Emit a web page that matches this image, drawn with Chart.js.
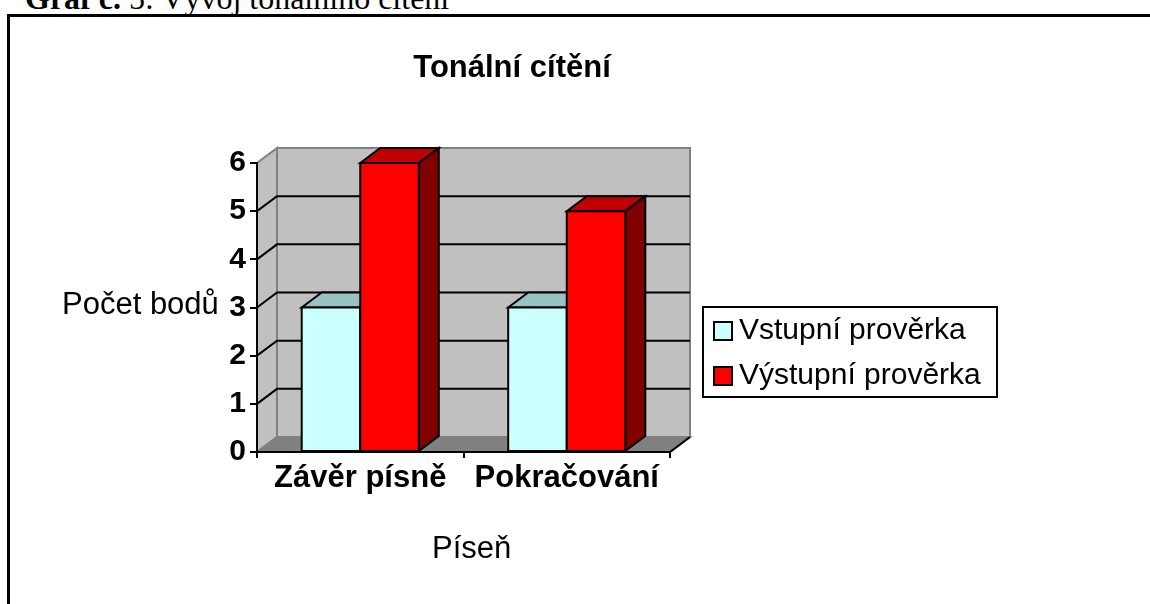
<!DOCTYPE html>
<html lang="cs">
<head>
  <meta charset="UTF-8">
  <title>Tonální cítění</title>
  <script src="https://cdn.jsdelivr.net/npm/chart.js"></script>
  <style>
    body {
      margin: 0;
      background: #fff;
      width: 1150px;
      height: 604px;
      overflow: hidden;
      position: relative;
    }
    .caption {
      position: absolute;
      left: 25px;
      top: -18px;
      font-family: 'Liberation Serif', 'Times New Roman', serif;
      font-size: 32px;
      line-height: 32px;
      white-space: nowrap;
    }
    .frame {
      position: absolute;
      left: 7px;
      top: 14px;
      width: 1200px;
      height: 700px;
      border-left: 3px solid #000;
      border-top: 3px solid #000;
    }
    #chart {
      position: absolute;
      left: 0;
      top: 0;
    }
  </style>
</head>
<body>
  <div class="caption"><b>Graf č.</b> 5: Vývoj tonálního cítění</div>
  <div class="frame"></div>
  <canvas id="chart" width="1150" height="604"></canvas>

  <script>
    // data
    const categories = ['Závěr písně', 'Pokračování'];
    const seriesNames = ['Vstupní prověrka', 'Výstupní prověrka'];
    const vstupni = [3, 3];
    const vystupni = [6, 5];
    const yMin = 0, yMax = 6, yStep = 1;

    const FONT = "'Liberation Sans', Arial, sans-serif";

    // colours: front, top, side
    const shades = [
      { front: '#CCFFFF', top: '#99C2C2', side: '#668080' },
      { front: '#FF0000', top: '#C00000', side: '#800000' }
    ];

    // depth of the 3D effect
    const DX = 20, DY = -15;

    function poly(ctx, pts, fill, stroke, lw) {
      ctx.beginPath();
      ctx.moveTo(pts[0][0], pts[0][1]);
      for (let i = 1; i < pts.length; i++) ctx.lineTo(pts[i][0], pts[i][1]);
      ctx.closePath();
      if (fill) { ctx.fillStyle = fill; ctx.fill(); }
      if (stroke) { ctx.strokeStyle = stroke; ctx.lineWidth = lw || 2; ctx.stroke(); }
    }

    // walls, floor and back gridlines, drawn before the axes
    const walls = {
      id: 'walls',
      beforeDraw(chart) {
        const ctx = chart.ctx;
        const { left, right, top, bottom } = chart.chartArea;
        const y = chart.scales.y;
        ctx.save();
        ctx.lineJoin = 'miter';
        // back wall
        poly(ctx, [[left + DX, top + DY], [right + DX, top + DY], [right + DX, bottom + DY], [left + DX, bottom + DY]], '#C0C0C0', '#808080', 2);
        // side wall
        poly(ctx, [[left, bottom], [left, top], [left + DX, top + DY], [left + DX, bottom + DY]], '#C0C0C0', '#808080', 2);
        // floor
        poly(ctx, [[left, bottom], [right, bottom], [right + DX, bottom + DY], [left + DX, bottom + DY]], '#808080', '#808080', 2);
        ctx.beginPath();
        ctx.moveTo(right, bottom);
        ctx.lineTo(right + DX, bottom + DY);
        ctx.strokeStyle = '#000';
        ctx.lineWidth = 2;
        ctx.stroke();
        // gridlines on side and back wall
        y.ticks.forEach(t => {
          if (t.value <= yMin || t.value >= yMax) return;
          const py = y.getPixelForValue(t.value);
          ctx.beginPath();
          ctx.moveTo(left, py);
          ctx.lineTo(left + DX, py + DY);
          ctx.lineTo(right + DX, py + DY);
          ctx.strokeStyle = '#000';
          ctx.lineWidth = 2;
          ctx.stroke();
        });
        ctx.restore();
      }
    };

    // bars drawn as boxes: top, side, then the front face
    const boxes = {
      id: 'boxes',
      beforeDatasetDraw() {
        return false;
      },
      afterDatasetsDraw(chart) {
        const ctx = chart.ctx;
        ctx.save();
        ctx.lineJoin = 'miter';
        chart.data.datasets.forEach((ds, di) => {
          const meta = chart.getDatasetMeta(di);
          const c = shades[di];
          meta.data.forEach(bar => {
            const p = bar.getProps(['x', 'y', 'base', 'width'], true);
            const l = p.x - p.width / 2, r = p.x + p.width / 2;
            poly(ctx, [[l, p.y], [r, p.y], [r + DX, p.y + DY], [l + DX, p.y + DY]], c.top, '#000', 2);
            poly(ctx, [[r, p.y], [r, p.base], [r + DX, p.base + DY], [r + DX, p.y + DY]], c.side, '#000', 2);
            poly(ctx, [[l, p.y], [r, p.y], [r, p.base], [l, p.base]], c.front, '#000', 2);
          });
        });
        ctx.restore();
      }
    };

    // title, axis titles and the legend box
    const texts = {
      id: 'texts',
      afterDraw(chart) {
        const ctx = chart.ctx;
        ctx.save();
        ctx.fillStyle = '#000';
        ctx.textBaseline = 'alphabetic';

        ctx.font = 'bold 31px ' + FONT;
        ctx.textAlign = 'center';
        ctx.fillText('Tonální cítění', 512, 77);

        ctx.font = '31px ' + FONT;
        ctx.textAlign = 'left';
        ctx.fillText('Počet bodů', 62, 314);
        ctx.fillText('Píseň', 432, 558);

        // legend
        ctx.strokeStyle = '#000';
        ctx.lineWidth = 2;
        ctx.strokeRect(703, 307, 294, 90);
        ctx.font = '30px ' + FONT;
        chart.data.datasets.forEach((ds, i) => {
          const yy = 322 + i * 45;
          ctx.fillStyle = ds.backgroundColor;
          ctx.fillRect(714, yy, 18, 18);
          ctx.strokeRect(714, yy, 18, 18);
          ctx.fillStyle = '#000';
          ctx.fillText(ds.label, 739, yy + 17);
        });
        ctx.restore();
      }
    };

    new Chart(document.getElementById('chart'), {
      type: 'bar',
      data: {
        labels: categories,
        datasets: [
          { label: seriesNames[0], data: vstupni, backgroundColor: shades[0].front, borderColor: '#000', borderWidth: 2 },
          { label: seriesNames[1], data: vystupni, backgroundColor: shades[1].front, borderColor: '#000', borderWidth: 2 }
        ]
      },
      options: {
        responsive: false,
        animation: false,
        devicePixelRatio: 1,
        layout: { padding: { left: 200, top: 163, right: 480, bottom: 100 } },
        datasets: { bar: { barPercentage: 1, categoryPercentage: 0.567 } },
        plugins: { legend: { display: false }, title: { display: false }, tooltip: { enabled: false } },
        scales: {
          x: {
            afterFit: s => { s.height = 52; },
            grid: { drawOnChartArea: false, color: '#000', lineWidth: 2, tickLength: 6, offset: true },
            border: { color: '#000', width: 2 },
            ticks: { color: '#000', font: { family: FONT, size: 31, weight: 'bold' }, padding: 2, maxRotation: 0, autoSkip: false }
          },
          y: {
            min: yMin,
            max: yMax,
            afterFit: s => { s.width = 57; },
            grid: { drawOnChartArea: false, color: '#000', lineWidth: 2, tickLength: 7 },
            border: { color: '#000', width: 2 },
            ticks: { stepSize: yStep, color: '#000', font: { family: FONT, size: 30, weight: 'bold' }, padding: 4 }
          }
        }
      },
      plugins: [walls, boxes, texts]
    });
  </script>
</body>
</html>
